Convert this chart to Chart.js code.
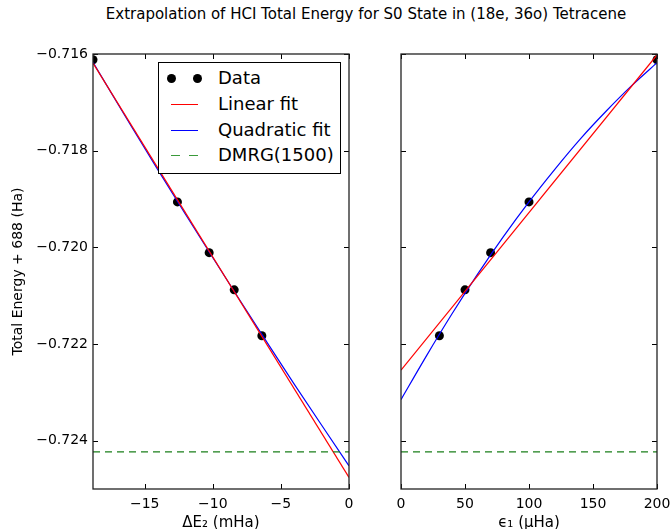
<!DOCTYPE html>
<html>
<head>
<meta charset="utf-8">
<script src="https://cdn.jsdelivr.net/npm/chart.js@4/dist/chart.umd.min.js"></script>
<style>
  body { margin: 0; width: 670px; height: 529px; overflow: hidden; background: #fff; font-family: "DejaVu Sans", sans-serif; position: relative; }
  #title { position: absolute; left: 0; width: 732px; top: 6px; text-align: center; font-size: 15px; line-height: 16px; color: #000; }
  #leftBox { position: absolute; left: 0; top: 0; }
  #rightBox { position: absolute; left: 380px; top: 0; }
  #legend { position: absolute; left: 158px; top: 62px; width: 181px; height: 110px; border: 1px solid #000; background: #fff; font-size: 18px; }
  .row { position: absolute; left: 0; height: 20px; line-height: 20px; }
  .row span.lbl { position: absolute; left: 59px; white-space: nowrap; }
  .dot { position: absolute; width: 9px; height: 9px; border-radius: 50%; background: #000; top: 6px; }
  .ln { position: absolute; left: 12px; width: 27px; top: 10px; height: 0; }
  .dash { position: absolute; left: 12px; width: 27px; top: 10px; height: 1px;
          background: linear-gradient(to right, #3a9a3a 0 9px, transparent 9px 18px, #3a9a3a 18px 27px); }
</style>
</head>
<body>
<div id="title">Extrapolation of HCI Total Energy for S0 State in (18e, 36o) Tetracene</div>
<div id="leftBox"><canvas id="leftChart" width="375" height="529"></canvas></div>
<div id="rightBox"><canvas id="rightChart" width="290" height="529"></canvas></div>
<div id="legend">
  <div class="row" style="top:5px"><div class="dot" style="left:8px"></div><div class="dot" style="left:34px"></div><span class="lbl">Data</span></div>
  <div class="row" style="top:31px"><div class="ln" style="border-top:1px solid #ff0000"></div><span class="lbl">Linear fit</span></div>
  <div class="row" style="top:57px"><div class="ln" style="border-top:1px solid #0000ff"></div><span class="lbl">Quadratic fit</span></div>
  <div class="row" style="top:82px"><div class="dash"></div><span class="lbl">DMRG(1500)</span></div>
</div>
<script>
  // data
  const energy = [-0.71612, -0.71906, -0.72011, -0.72088, -0.72183];   // total energy + 688 (Ha)
  const deltaE2 = [-18.8, -12.6, -10.27, -8.43, -6.4];                 // mHa
  const eps1 = [200, 100, 70, 50, 30];                                  // uHa

  const linLeftX = [-18.8, 0];
  const linLeftY = [-0.71619, -0.72476];
  const quadLeftX = [-18.8, -16, -12, -8, -4, 0];
  const quadLeftY = [-0.71617, -0.71749, -0.71932, -0.72110, -0.72284, -0.72452];

  const linRightX = [0, 200];
  const linRightY = [-0.72254, -0.71602];
  const quadRightX = [0, 20, 40, 60, 80, 100, 120, 140, 160, 180, 200];
  const quadRightY = [-0.72315, -0.72224, -0.72137, -0.72055, -0.71978, -0.71906,
                      -0.71839, -0.71776, -0.71719, -0.71666, -0.71618];

  const dmrg = -0.72423;

  const leftXTicks = [-15, -10, -5, 0];
  const rightXTicks = [0, 50, 100, 150, 200];
  const yTicks = [-0.716, -0.718, -0.720, -0.722, -0.724];

  const FONT = "DejaVu Sans";

  function pts(xs, ys) {
    return xs.map((x, i) => ({x: x, y: ys[i]}));
  }

  // matplotlib-ish frame with ticks pointing inwards on all four sides
  const innerTicks = {
    id: 'innerTicks',
    afterDatasetsDraw(chart) {
      const ctx = chart.ctx;
      const a = chart.chartArea;
      const sx = chart.scales.x, sy = chart.scales.y;
      ctx.save();
      ctx.strokeStyle = '#000';
      ctx.lineWidth = 1;
      ctx.beginPath();
      sx.ticks.forEach((t) => {
        var px = Math.round(sx.getPixelForValue(t.value)) + 0.5;
        ctx.moveTo(px, a.bottom); ctx.lineTo(px, a.bottom - 5);
        ctx.moveTo(px, a.top); ctx.lineTo(px, a.top + 5);
      });
      sy.ticks.forEach((t) => {
        var py = Math.round(sy.getPixelForValue(t.value)) + 0.5;
        ctx.moveTo(a.left, py); ctx.lineTo(a.left + 5, py);
        ctx.moveTo(a.right, py); ctx.lineTo(a.right - 5, py);
      });
      ctx.stroke();
      ctx.lineWidth = 1.3;
      ctx.strokeStyle = '#222';
      ctx.strokeRect(a.left, a.top, a.right - a.left, a.bottom - a.top);
      ctx.restore();
    }
  };

  function makeChart(id, opts) {
    var xMin = opts.xMin, xMax = opts.xMax;
    return new Chart(document.getElementById(id), {
      type: 'scatter',
      data: {
        datasets: [
          {
            label: 'DMRG(1500)',
            data: pts([xMin, xMax], [dmrg, dmrg]),
            showLine: true, borderColor: '#1a7f1a', borderWidth: 1.2, borderDash: [7, 5],
            pointRadius: 0
          },
          {
            label: 'Linear fit',
            data: pts(opts.linX, opts.linY),
            showLine: true, borderColor: '#ff0000', borderWidth: 1.2, pointRadius: 0
          },
          {
            label: 'Quadratic fit',
            data: pts(opts.quadX, opts.quadY),
            showLine: true, borderColor: '#0000ff', borderWidth: 1.2, pointRadius: 0,
            tension: 0.3
          },
          {
            label: 'Data',
            data: pts(opts.dataX, energy),
            showLine: false, pointRadius: 4.5, pointBackgroundColor: '#000',
            pointBorderColor: '#000', pointBorderWidth: 0, clip: 0
          }
        ]
      },
      options: {
        responsive: false,
        animation: false,
        layout: { padding: { top: 54, right: opts.padRight, bottom: 0, left: 0 } },
        plugins: { legend: { display: false }, tooltip: { enabled: false } },
        scales: {
          x: {
            type: 'linear', min: xMin, max: xMax,
            grid: { display: false, drawTicks: false },
            border: { display: false },
            afterBuildTicks: (s) => { s.ticks = opts.xTicks.map((v) => ({value: v})); },
            afterFit: (s) => { s.height = 40; s.paddingLeft = 0; s.paddingRight = 0; },
            ticks: {
              padding: 7, color: '#000', font: { family: FONT, size: 14 },
              callback: (v) => (v < 0 ? '\u2212' + Math.abs(v) : '' + v)
            },
            title: {
              display: true, text: opts.xTitle, color: '#000',
              font: { family: FONT, size: 15 }, padding: { top: 0, bottom: -3 }
            }
          },
          y: {
            type: 'linear', min: -0.725, max: -0.716,
            grid: { display: false, drawTicks: false },
            border: { display: false },
            afterBuildTicks: (s) => { s.ticks = yTicks.map((v) => ({value: v})); },
            afterFit: (s) => { s.width = opts.yWidth; s.paddingTop = 0; s.paddingBottom = 0; },
            ticks: {
              display: opts.yLabels, padding: 5, color: '#000', font: { family: FONT, size: 14 },
              callback: (v) => '\u2212' + Math.abs(v).toFixed(3)
            },
            title: {
              display: opts.yLabels, text: 'Total Energy + 688 (Ha)', color: '#000',
              font: { family: FONT, size: 14 }, padding: { top: 10, bottom: 0 }
            }
          }
        }
      },
      plugins: [innerTicks]
    });
  }

  makeChart('leftChart', {
    xMin: -18.8, xMax: 0, xTicks: leftXTicks, xTitle: '\u0394E\u2082 (mHa)',
    dataX: deltaE2, linX: linLeftX, linY: linLeftY, quadX: quadLeftX, quadY: quadLeftY,
    yWidth: 93, yLabels: true, padRight: 26
  });

  makeChart('rightChart', {
    xMin: 0, xMax: 200, xTicks: rightXTicks, xTitle: '\u03F5\u2081 (\u03BCHa)',
    dataX: eps1, linX: linRightX, linY: linRightY, quadX: quadRightX, quadY: quadRightY,
    yWidth: 21, yLabels: false, padRight: 13
  });
</script>
</body>
</html>
